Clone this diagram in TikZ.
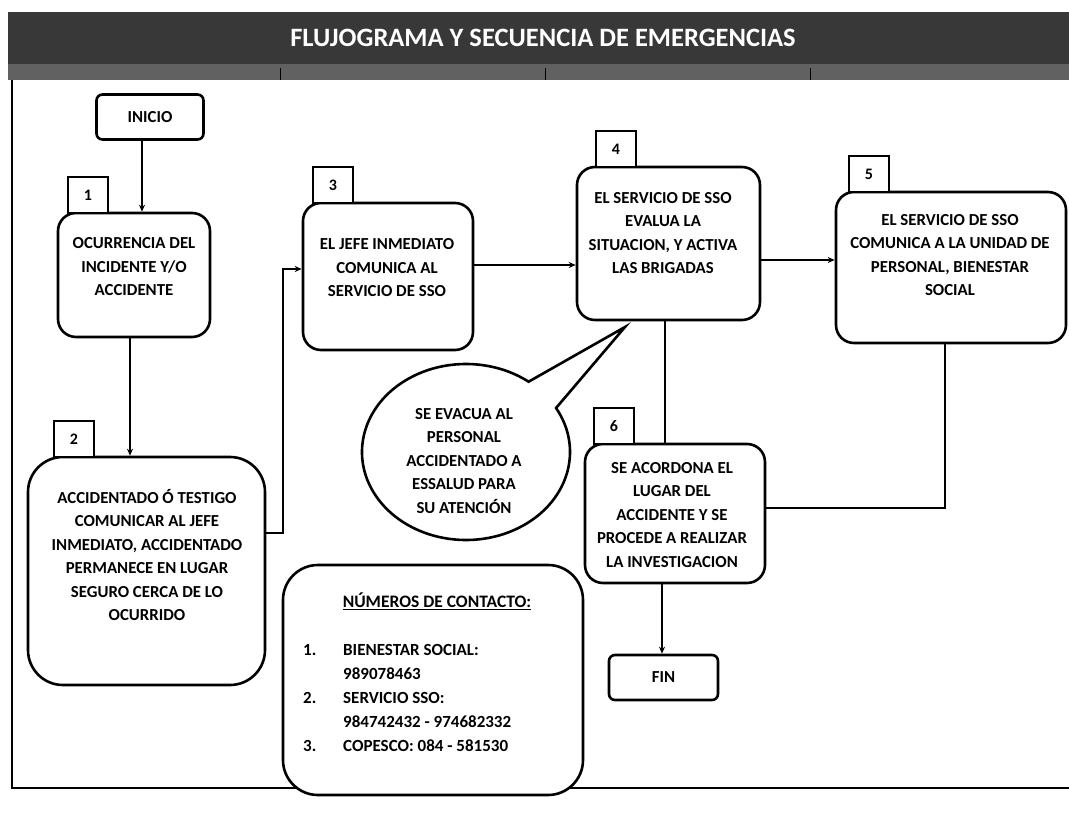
\documentclass[tikz,border=0pt]{standalone}
\usepackage{fontspec}
\setmainfont{Carlito}
\usetikzlibrary{shapes.geometric,arrows.meta}
\begin{document}
\begin{tikzpicture}[x=1pt,y=-1pt,
 box/.style={draw=black, line width=2.6pt, rounded corners=18pt, fill=white, inner sep=0pt},
 tagbox/.style={draw=black, line width=2pt, minimum width=40pt, minimum height=36pt, inner sep=0pt, font=\fontsize{16}{18}\selectfont\bfseries, fill=white},
 txt/.style={align=center, font=\fontsize{16.8}{23.5}\selectfont\bfseries, inner sep=0pt},
 conn/.style={line width=2.2pt},
 arr/.style={conn, -{Stealth[length=7pt,width=6pt]}},
]
\useasboundingbox (0,0) rectangle (1069,829);
\fill[white] (0,0) rectangle (1069,829);
% title bar
\fill[black!78] (8,12) rectangle (1069,80);
\fill[black!62] (8,64) rectangle (1069,80);
\foreach \tx in {280,545,810} \draw[line width=1pt] (\tx,68) -- (\tx,80);
\node[font=\fontsize{26.5}{30}\selectfont\bfseries, text=white, inner sep=0pt] (title) at (543,38) {FLUJOGRAMA Y SECUENCIA DE EMERGENCIAS};
% frame
\draw[line width=2.4pt] (12,80) -- (12,788) -- (1069,788);

% boxes
\node[box, rounded corners=6pt, minimum width=107pt, minimum height=45pt, font=\fontsize{16.8}{18}\selectfont\bfseries] (inicio) at (150,117) {INICIO};
\node[box, minimum width=152pt, minimum height=124pt] (b1) at (134,275) {};
\node[box, rounded corners=35pt, minimum width=237pt, minimum height=228pt] (b2) at (146.5,571) {};
\node[box, minimum width=170pt, minimum height=147pt] (b3) at (388,276.5) {};
\node[box, minimum width=183pt, minimum height=153pt] (b4) at (668.5,243.5) {};
\node[box, minimum width=230pt, minimum height=151pt] (b5) at (951,267.5) {};
\node[box, minimum width=180pt, minimum height=139pt] (b6) at (675,513.5) {};
\node[box, rounded corners=6pt, minimum width=109pt, minimum height=45pt, font=\fontsize{16.8}{18}\selectfont\bfseries] (fin) at (663.5,677.5) {FIN};
\node[box, rounded corners=35pt, minimum width=300pt, minimum height=230pt] (cont) at (433,680) {};

% tags
\node[tagbox, anchor=south] (g1) at (88,214) {1};
\node[tagbox, anchor=south] (g2) at (74,458) {2};
\node[tagbox, anchor=south] (g3) at (333,204) {3};
\node[tagbox, anchor=south] (g4) at (616,168) {4};
\node[tagbox, anchor=south] (g5) at (869,193) {5};
\node[tagbox, anchor=south] (g6) at (614,445) {6};

% texts
\node[txt] (t1) at (134,267) {OCURRENCIA DEL\\INCIDENTE Y/O\\ACCIDENTE};
\node[txt] (t2) at (147,555) {ACCIDENTADO Ó TESTIGO\\COMUNICAR AL JEFE\\INMEDIATO, ACCIDENTADO\\PERMANECE EN LUGAR\\SEGURO CERCA DE LO\\OCURRIDO};
\node[txt] (t3) at (387,268) {EL JEFE INMEDIATO\\COMUNICA AL\\SERVICIO DE SSO};
\node[txt] (t4) at (663,233) {EL SERVICIO DE SSO\\EVALUA LA\\SITUACION, Y ACTIVA\\LAS BRIGADAS};
\node[txt] (t5) at (950,255) {EL SERVICIO DE SSO\\COMUNICA A LA UNIDAD DE\\PERSONAL, BIENESTAR\\SOCIAL};
\node[txt] (t6) at (672,515) {SE ACORDONA EL\\LUGAR DEL\\ACCIDENTE Y SE\\PROCEDE A REALIZAR\\LA INVESTIGACION};

% callout bubble
\draw[line width=2.6pt, fill=white, line join=miter] (466,452) ++(-30:104 and 88) arc[start angle=-30, end angle=307, x radius=104, y radius=88] -- (625,327) -- cycle;
\node[txt] (bub) at (464,461) {SE EVACUA AL\\PERSONAL\\ACCIDENTADO A\\ESSALUD PARA\\SU ATENCIÓN};

% contacts
\node[font=\fontsize{17.5}{20}\selectfont\bfseries, inner sep=0pt] (ct) at (437,601) {\underline{NÚMEROS DE CONTACTO:}};
\node[anchor=north west, inner sep=0pt, font=\fontsize{17}{24}\selectfont\bfseries] (cl) at (303,638) {\begin{tabular}{@{}p{40pt}@{}l@{}}
1. & BIENESTAR SOCIAL:\\
 & 989078463\\
2. & SERVICIO SSO:\\
 & 984742432 - 974682332\\
3. & COPESCO: 084 - 581530
\end{tabular}};

% connectors
\coordinate (v1) at (142,0);
\coordinate (v2) at (130,0);
\coordinate (k1) at (283,533);
\coordinate (k2) at (283,269);
\coordinate (h1) at (0,265);
\coordinate (h2) at (0,260);
\coordinate (v3) at (665,0);
\coordinate (k3) at (945,508);
\coordinate (v4) at (662,0);
\draw[arr] (inicio.south -| v1) -- (b1.north -| v1);
\draw[arr] (b1.south -| v2) -- (b2.north -| v2);
\draw[arr] (b2.east |- k1) -- (k1) -- (k2) -- (b3.west |- k2);
\draw[arr] (b3.east |- h1) -- (b4.west |- h1);
\draw[arr] (b4.east |- h2) -- (b5.west |- h2);
\draw[conn] (b4.south -| v3) -- (b6.north -| v3);
\draw[conn] (b5.south -| k3) -- (k3) -- (b6.east |- k3);
\draw[arr] (b6.south -| v4) -- (fin.north -| v4);
\end{tikzpicture}
\end{document}
